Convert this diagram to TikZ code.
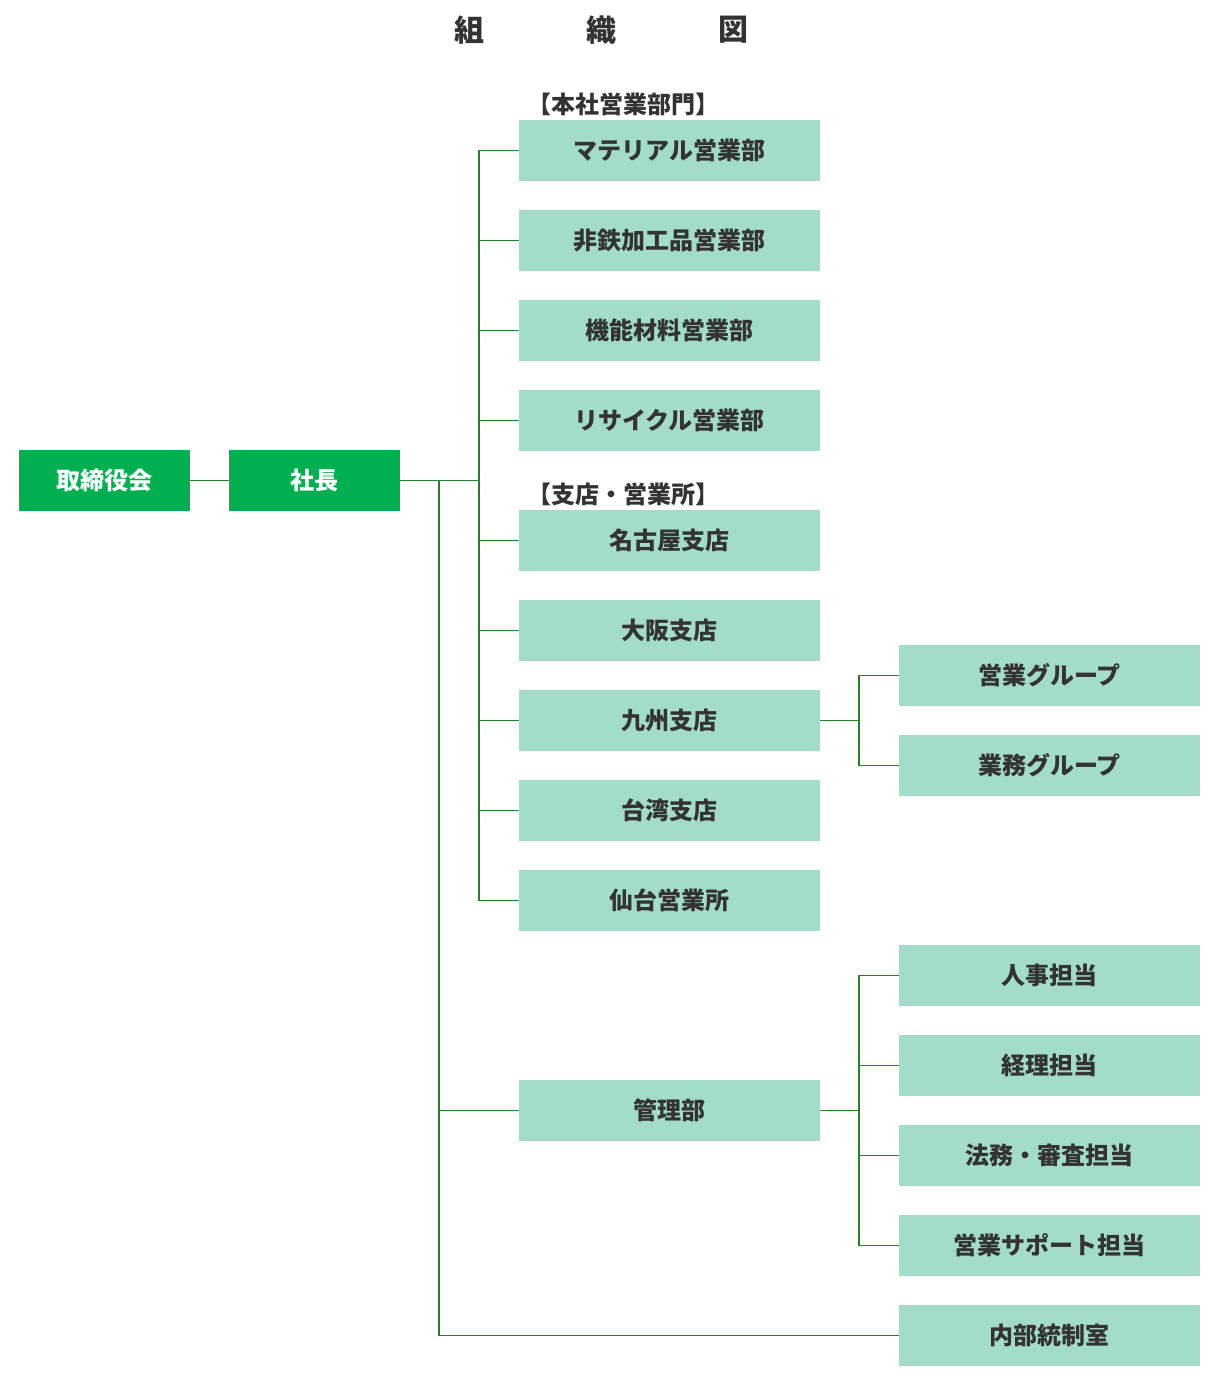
\documentclass[tikz,border=0pt]{standalone}
\usepackage{fontspec}
\setmainfont{Noto Sans CJK JP}
\definecolor{dg}{HTML}{00B050}
\definecolor{lg}{HTML}{A3DCC8}
\definecolor{ln}{HTML}{22822A}
\definecolor{tx}{HTML}{333333}
\begin{document}
\begin{tikzpicture}[x=1pt,y=-1pt,
 box/.style={fill=lg,minimum width=301pt,minimum height=61pt,inner sep=0pt,text=tx,font=\fontsize{24}{24}\selectfont\bfseries},
 top/.style={fill=dg,minimum width=171pt,minimum height=61pt,inner sep=0pt,text=white,font=\fontsize{24}{24}\selectfont\bfseries},
 con/.style={draw=ln,line width=1.5pt},
 lab/.style={text=tx,font=\fontsize{24}{24}\selectfont\bfseries,anchor=west,inner sep=0pt}]
\useasboundingbox (0,0) rectangle (1219,1386);
\node[text=tx,font=\fontsize{30}{30}\selectfont\bfseries] (t1) at (469,30) {組};
\node[text=tx,font=\fontsize{30}{30}\selectfont\bfseries] (t2) at (601,30) {織};
\node[text=tx,font=\fontsize{30}{30}\selectfont\bfseries] (t3) at (733,30) {図};
\node[top] (a) at (104.5,480.5) {取締役会};
\node[top] (b) at (314.5,480.5) {社長};
\node[lab] (l1) at (527,104) {【本社営業部門】};
\node[lab] (l2) at (527,494) {【支店・営業所】};
\foreach \n/\y/\t in {m1/120/マテリアル営業部,m2/210/非鉄加工品営業部,m3/300/機能材料営業部,m4/390/リサイクル営業部,m5/510/名古屋支店,m6/600/大阪支店,m7/690/九州支店,m8/780/台湾支店,m9/870/仙台営業所,m10/1080/管理部}
  \node[box] (\n) at (669.5,\y+30.5) {\t};
\foreach \n/\y/\t in {r1/645/営業グループ,r2/735/業務グループ,r3/945/人事担当,r4/1035/経理担当,r5/1125/法務・審査担当,r6/1215/営業サポート担当,r7/1305/内部統制室}
  \node[box] (\n) at (1049.5,\y+30.5) {\t};
\coordinate (j1) at (479,480.5);
\coordinate (j2) at (439,480.5);
\draw[con] (a) -- (b);
\draw[con] (b) -- (j1);
\draw[con] (m1.west) -| (j1) |- (m9.west);
\foreach \n in {m2,m3,m4,m5,m6,m7,m8} \draw[con] (\n.west) -- (j1 |- \n.west);
\draw[con] (j2) |- (r7.west);
\draw[con] (m10.west) -- (j2 |- m10.west);
\coordinate (j3) at (859,720.5);
\draw[con] (m7.east) -- (j3);
\draw[con] (r1.west) -| (j3) |- (r2.west);
\coordinate (j4) at (859,1110.5);
\draw[con] (m10.east) -- (j4);
\draw[con] (r3.west) -| (j4) |- (r6.west);
\draw[con] (r4.west) -- (j4 |- r4.west);
\draw[con] (r5.west) -- (j4 |- r5.west);
\end{tikzpicture}
\end{document}
